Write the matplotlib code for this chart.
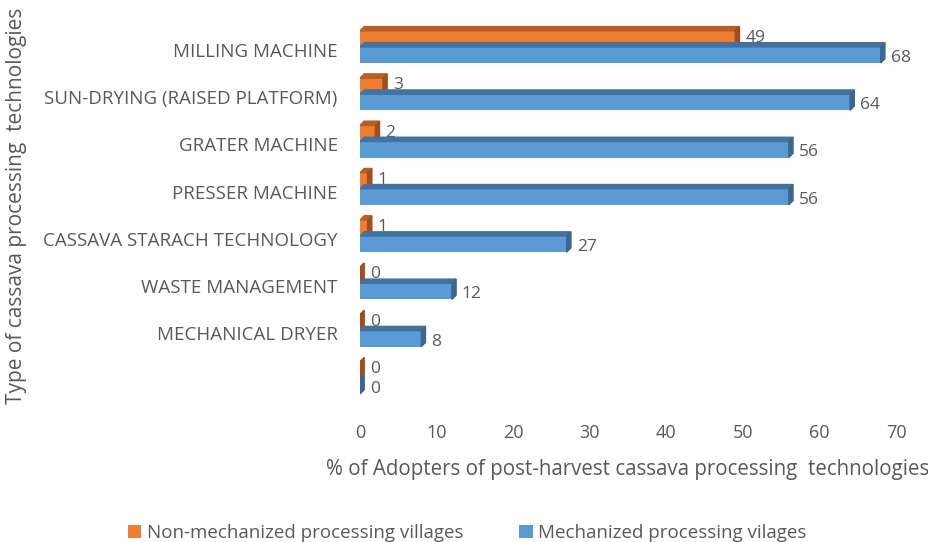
import numpy as np
import matplotlib.pyplot as plt
from matplotlib.patches import Polygon

# Chart data (top to bottom as drawn)
categories = ['MILLING MACHINE', 'SUN-DRYING (RAISED PLATFORM)', 'GRATER MACHINE',
              'PRESSER MACHINE', 'CASSAVA STARACH TECHNOLOGY', 'WASTE MANAGEMENT',
              'MECHANICAL DRYER', '']
non_mech = [49, 3, 2, 1, 1, 0, 0, 0]
mech = [68, 64, 56, 56, 27, 12, 8, 0]

plt.rcParams['font.family'] = ['Open Sans', 'DejaVu Sans']
grey = '#595959'

fig = plt.figure(figsize=(9.29, 5.42), dpi=100)
ax = fig.add_axes([0.3875, 0.253, 0.577, 0.701])

n = len(categories)
ypos = np.arange(n)[::-1]   # first category at top
h = 0.34
dx, dy = 0.55, 0.09        # 3D depth in data units

series = [
    (non_mech, ypos + h / 2, '#ED7D31', '#B75F25', '#A04F1C', 'Non-mechanized processing villages', 2, 0.02),
    (mech, ypos - h / 2, '#5B9BD5', '#44729E', '#3C6690', 'Mechanized processing vilages', 4, -0.06),
]

for vals, yc, front, top, side, lab, z, off in series:
    ax.barh(yc, vals, height=h, color=front, label=lab, zorder=z)
    for v, y in zip(vals, yc):
        y0, y1 = y - h / 2, y + h / 2
        ax.add_patch(Polygon([(0, y1), (v, y1), (v + dx, y1 + dy), (dx, y1 + dy)],
                             closed=True, color=top, zorder=z))
        ax.add_patch(Polygon([(v, y0), (v, y1), (v + dx, y1 + dy), (v + dx, y0 + dy)],
                             closed=True, color=side, zorder=z))
        ax.text(v + 1.3, y + off, str(v), va='center', ha='left', fontsize=12.5,
                color=grey, zorder=z - 1)

ax.set_xlim(0, 70)
ax.set_ylim(-0.57, 7.465)
ax.set_xticks(range(0, 71, 10))
ax.set_yticks(ypos - 0.06)
ax.set_yticklabels(categories)
ax.tick_params(axis='x', length=0, labelcolor=grey, labelsize=13, pad=14)
ax.tick_params(axis='y', length=0, labelcolor=grey, labelsize=13.5, pad=16)
for s in ax.spines.values():
    s.set_visible(False)

ax.set_xlabel('% of Adopters of post-harvest cassava processing  technologies',
              fontsize=14.8, color=grey, labelpad=12)
fig.text(0.018, 0.62, 'Type of cassava processing  technologies', rotation=90,
         fontsize=15, color=grey, ha='center', va='center')

handles, labels = ax.get_legend_handles_labels()
fig.legend(handles, labels, loc='center', bbox_to_anchor=(0.503, 0.016), ncol=2,
           frameon=False, fontsize=13.5, labelcolor=grey, handlelength=0.7,
           handleheight=0.7, handletextpad=0.3, columnspacing=3.0,
           borderpad=0.1)

fig.savefig('out.png', dpi=100)
